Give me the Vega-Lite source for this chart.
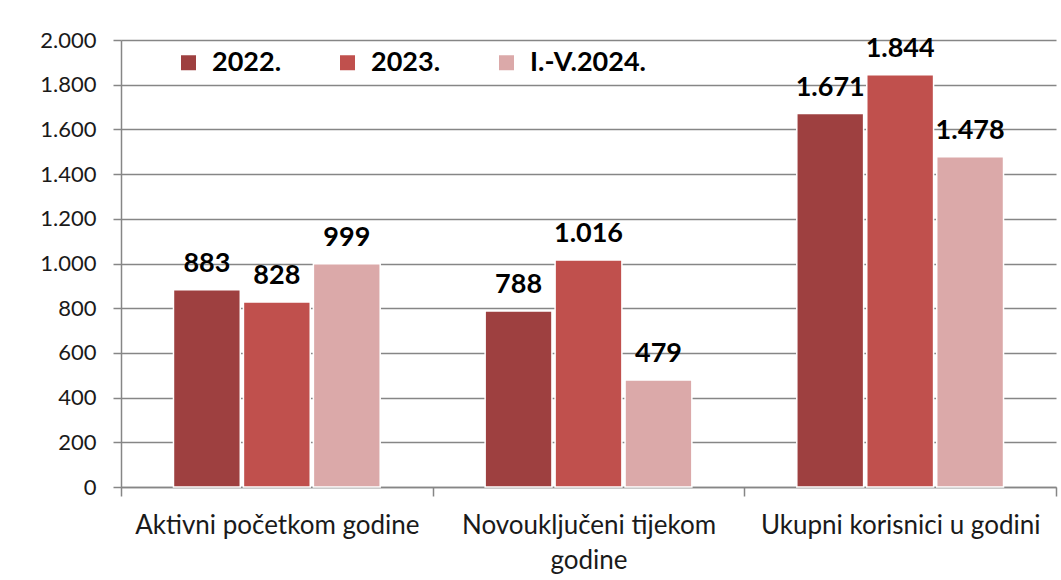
{
  "$schema": "https://vega.github.io/schema/vega-lite/v6.json",
  "autosize": {"type": "none"},
  "padding": {"left": 121, "top": 40, "right": 5, "bottom": 93},
  "width": 935,
  "height": 447,
  "background": "white",
  "config": {
    "locale": {"number": {"decimal": ",", "thousands": ".", "grouping": [3], "currency": ["", " €"]}},
    "font": "Lato",
    "view": {"stroke": null}
  },
  "data": {
    "values": [
      {"kategorija": "Aktivni početkom godine", "razdoblje": "2022.", "broj": 883},
      {"kategorija": "Aktivni početkom godine", "razdoblje": "2023.", "broj": 828},
      {"kategorija": "Aktivni početkom godine", "razdoblje": "I.-V.2024.", "broj": 999},
      {"kategorija": "Novouključeni tijekom godine", "razdoblje": "2022.", "broj": 788},
      {"kategorija": "Novouključeni tijekom godine", "razdoblje": "2023.", "broj": 1016},
      {"kategorija": "Novouključeni tijekom godine", "razdoblje": "I.-V.2024.", "broj": 479},
      {"kategorija": "Ukupni korisnici u godini", "razdoblje": "2022.", "broj": 1671},
      {"kategorija": "Ukupni korisnici u godini", "razdoblje": "2023.", "broj": 1844},
      {"kategorija": "Ukupni korisnici u godini", "razdoblje": "I.-V.2024.", "broj": 1478}
    ]
  },
  "encoding": {
    "x": {
      "field": "kategorija", "type": "nominal", "sort": null,
      "scale": {"paddingInner": 0, "paddingOuter": 0},
      "axis": {
        "title": null, "labelAngle": 0, "tickBand": "extent",
        "labelFontSize": 26, "labelColor": "#1a1a1a", "labelPadding": 16,
        "labelLineHeight": 35, "labelLimit": 330,
        "labelExpr": "datum.label == 'Novouključeni tijekom godine' ? ['Novouključeni tijekom', 'godine'] : datum.label",
        "tickSize": 9, "tickColor": "#868686", "tickWidth": 1.5,
        "domainColor": "#868686", "domainWidth": 1.5, "grid": false
      }
    },
    "xOffset": {
      "field": "razdoblje", "type": "nominal", "sort": null,
      "scale": {"paddingInner": 0.045, "paddingOuter": 0.75}
    },
    "y": {
      "field": "broj", "type": "quantitative",
      "scale": {"domain": [0, 2000], "nice": false},
      "axis": {
        "title": null, "values": [0, 200, 400, 600, 800, 1000, 1200, 1400, 1600, 1800, 2000],
        "format": ",d", "labelFontSize": 22, "labelColor": "#1a1a1a", "labelPadding": 17,
        "tickSize": 8, "tickColor": "#868686", "tickWidth": 1.5,
        "domainColor": "#868686", "domainWidth": 1.5,
        "grid": true, "gridColor": "#868686", "gridWidth": 1.5
      }
    }
  },
  "layer": [
    {
      "mark": {"type": "bar", "stroke": "white", "strokeWidth": 1.5},
      "encoding": {
        "color": {
          "field": "razdoblje", "type": "nominal", "sort": null,
          "scale": {"domain": ["2022.", "2023.", "I.-V.2024."], "range": ["#9E4040", "#C0504D", "#DBA9A9"]},
          "legend": {
            "title": null, "orient": "none", "legendX": 54, "legendY": 9,
            "direction": "horizontal", "symbolType": "square", "symbolSize": 225,
            "symbolStrokeWidth": 0, "labelFontSize": 27, "labelFontWeight": "bold",
            "labelColor": "black", "labelOffset": 10, "columnPadding": 52
          }
        }
      }
    },
    {
      "mark": {"type": "text", "fontSize": 27, "fontWeight": "bold", "color": "black", "baseline": "alphabetic", "dy": -18},
      "encoding": {
        "text": {"field": "broj", "type": "quantitative", "format": ",d"}
      }
    }
  ]
}
